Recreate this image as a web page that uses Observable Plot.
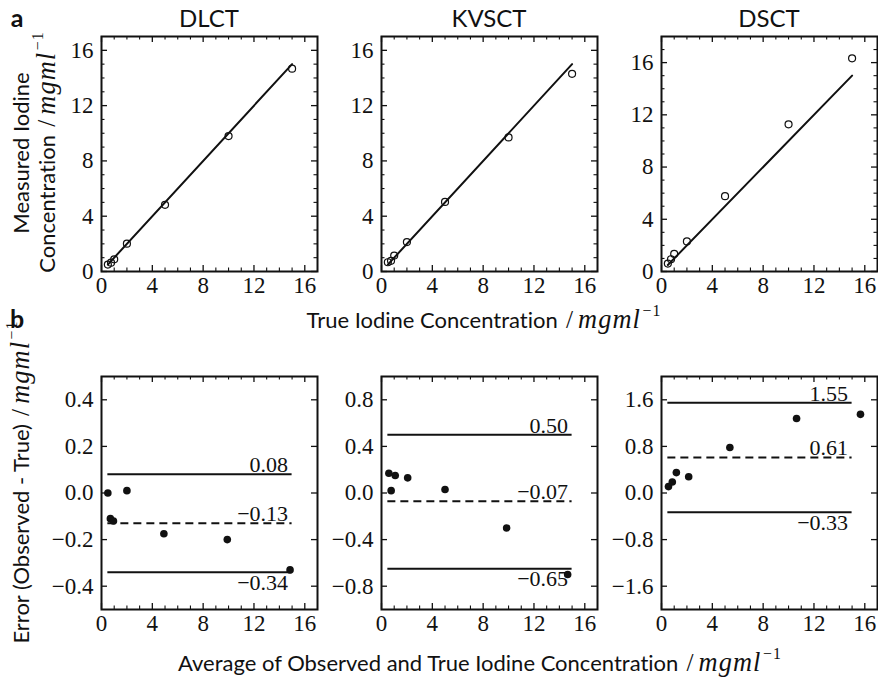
<!DOCTYPE html>
<html>
<head>
<meta charset="utf-8">
<script src="https://cdn.jsdelivr.net/npm/d3@7"></script>
<script src="https://cdn.jsdelivr.net/npm/@observablehq/plot@0.6"></script>
<style>
  html, body { margin: 0; padding: 0; background: #fff; }
  #fig { position: relative; width: 878px; height: 682px; overflow: hidden; background: #fff; }
  #fig svg { position: absolute; }
  .lbl { position: absolute; white-space: nowrap; font-family: Lato, "DejaVu Sans", sans-serif; color: #111;
         transform: translate(-50%, -50%); line-height: 1; font-variant-ligatures: none; font-feature-settings: "liga" 0, "clig" 0; }
  .rot { transform: translate(-50%, -50%) rotate(-90deg); }
  .tag { font-weight: bold; font-size: 25px; }
  .title { font-size: 24px; }
  .axis { font-size: 22px; }
  .m { font-family: "Liberation Serif", serif; font-style: italic; font-size: 1.2em; letter-spacing: 0.04em; }
  .sl { font-family: "Liberation Serif", serif; font-size: 1.15em; margin: 0 0.2em 0 0.1em; }
  .m sup { font-size: 0.6em; font-style: normal; vertical-align: 0.75em; line-height: 0; margin-left: 0.1em; }
</style>
</head>
<body>
<div id="fig"></div>
<script>
// Phantom measurements: three CT techniques against known iodine concentrations (mg/ml)
const methods = ["DLCT", "KVSCT", "DSCT"];
const trueConc = [0.5, 0.75, 1, 2, 5, 10, 15];
const measuredDLCT = [0.5, 0.64, 0.88, 2.01, 4.82, 9.8, 14.67];
const measuredKVSCT = [0.67, 0.77, 1.15, 2.13, 5.03, 9.7, 14.3];
const measuredDSCT = [0.61, 0.94, 1.35, 2.3, 5.77, 11.27, 16.33];

// Bland–Altman: mean of observed and true vs. error
const averageDLCT = [0.5, 0.7, 0.94, 2.0, 4.91, 9.9, 14.84];
const errorDLCT = [0.0, -0.11, -0.12, 0.01, -0.175, -0.2, -0.33];
const averageKVSCT = [0.58, 0.76, 1.08, 2.06, 5.0, 9.85, 14.65];
const errorKVSCT = [0.17, 0.02, 0.15, 0.13, 0.03, -0.3, -0.7];
const averageDSCT = [0.55, 0.85, 1.17, 2.14, 5.38, 10.63, 15.66];
const errorDSCT = [0.11, 0.19, 0.35, 0.28, 0.78, 1.28, 1.35];

// Limits of agreement: [upper, mean bias, lower]
const limitsDLCT = [0.08, -0.13, -0.34];
const limitsKVSCT = [0.50, -0.07, -0.65];
const limitsDSCT = [1.55, 0.61, -0.33];

// Reference segments
const identityEnds = [0.5, 15];
const limitEnds = [0.5, 15];

// Axes
const xDomain = [0, 17];
const xTicks = [0, 4, 8, 12, 16];
const yDomainTop = [[0, 17], [0, 17], [0, 18]];
const yTicksTop = [0, 4, 8, 12, 16];
const yDomainBottom = [[-0.5, 0.5], [-1, 1], [-2, 2]];
const yTicksBottom = [[-0.4, -0.2, 0, 0.2, 0.4], [-0.8, -0.4, 0, 0.4, 0.8], [-1.6, -0.8, 0, 0.8, 1.6]];

const measured = [measuredDLCT, measuredKVSCT, measuredDSCT];
const averages = [averageDLCT, averageKVSCT, averageDSCT];
const errors = [errorDLCT, errorKVSCT, errorDSCT];
const limits = [limitsDLCT, limitsKVSCT, limitsDSCT];

const fig = document.getElementById("fig");
const ink = "#111";
const colLeft = [101, 381, 661];
const W = 216;
const ML = 70, MR = 4, MT = 4, MB = 36;

function frameTicks(H, xMinor, yMajor, yMinor) {
  const maj = 6, min = 3.5;
  return [
    Plot.tickX(xTicks, {x: d => d, insetTop: H - maj, stroke: ink, strokeWidth: 1.3}),
    Plot.tickX(xTicks, {x: d => d, insetBottom: H - maj, stroke: ink, strokeWidth: 1.3}),
    Plot.tickX(xMinor, {x: d => d, insetTop: H - min, stroke: ink, strokeWidth: 1.1}),
    Plot.tickX(xMinor, {x: d => d, insetBottom: H - min, stroke: ink, strokeWidth: 1.1}),
    Plot.tickY(yMajor, {y: d => d, insetRight: W - maj, stroke: ink, strokeWidth: 1.3}),
    Plot.tickY(yMajor, {y: d => d, insetLeft: W - maj, stroke: ink, strokeWidth: 1.3}),
    Plot.tickY(yMinor, {y: d => d, insetRight: W - min, stroke: ink, strokeWidth: 1.1}),
    Plot.tickY(yMinor, {y: d => d, insetLeft: W - min, stroke: ink, strokeWidth: 1.1})
  ];
}

function panel({top, H, left, yDomain, yTicks, yFormat, yMinor, marks}) {
  const xMinor = d3.range(1, 17).filter(v => !xTicks.includes(v));
  const svg = Plot.plot({
    width: ML + W + MR,
    height: MT + H + MB,
    marginLeft: ML, marginRight: MR, marginTop: MT, marginBottom: MB,
    x: {domain: xDomain},
    y: {domain: yDomain},
    style: {fontFamily: '"Liberation Serif", serif', fontSize: "23px", color: ink, background: "transparent", overflow: "visible"},
    marks: [
      ...marks,
      ...frameTicks(H, xMinor, yTicks, yMinor),
      Plot.axisX(xTicks, {anchor: "bottom", tickSize: 0, tickPadding: 5, tickFormat: d => String(d), label: null}),
      Plot.axisY(yTicks, {anchor: "left", tickSize: 0, tickPadding: 8, tickFormat: yFormat, label: null}),
      Plot.frame({stroke: ink, strokeWidth: 2})
    ]
  });
  svg.style.left = (left - ML) + "px";
  svg.style.top = (top - MT) + "px";
  fig.appendChild(svg);
}

// Row a: measured vs. true concentration
methods.forEach((m, i) => {
  const pts = trueConc.map((t, j) => ({t, v: measured[i][j]}));
  const yMinor = d3.range(1, yDomainTop[i][1]).filter(v => !yTicksTop.includes(v));
  panel({
    top: 36, H: 235, left: colLeft[i],
    yDomain: yDomainTop[i], yTicks: yTicksTop, yFormat: d => String(d), yMinor,
    marks: [
      Plot.line(identityEnds.map(v => ({t: v, v})), {x: "t", y: "v", stroke: ink, strokeWidth: 2}),
      Plot.dot(pts, {x: "t", y: "v", r: 3.5, stroke: ink, strokeWidth: 1.2, fill: "none"})
    ]
  });
});

// Row b: Bland–Altman agreement
methods.forEach((m, i) => {
  const pts = averages[i].map((a, j) => ({a, e: errors[i][j]}));
  const [upper, bias, lower] = limits[i];
  const fmt = d3.format(".2f");
  panel({
    top: 376, H: 233, left: colLeft[i],
    yDomain: yDomainBottom[i], yTicks: yTicksBottom[i], yFormat: d3.format(".1f"), yMinor: [],
    marks: [
      Plot.ruleY([upper, lower], {y: d => d, x1: limitEnds[0], x2: limitEnds[1], stroke: ink, strokeWidth: 2}),
      Plot.ruleY([bias], {y: d => d, x1: limitEnds[0], x2: limitEnds[1], stroke: ink, strokeWidth: 2, strokeDasharray: "8,5"}),
      Plot.text([upper, bias], {x: limitEnds[1], y: d => d, text: d => fmt(d), textAnchor: "end", lineAnchor: "bottom", dx: -4, dy: -2, fill: ink, fontSize: 22}),
      Plot.text([lower], {x: limitEnds[1], y: d => d, text: d => fmt(d), textAnchor: "end", lineAnchor: "top", dx: -4, dy: 2, fill: ink, fontSize: 22}),
      Plot.dot(pts, {x: "a", y: "e", r: 3.8, fill: ink, stroke: "none"})
    ]
  });
});

// Titles and axis labels
const unit = '<span class="sl">/</span><span class="m">mgml<sup>−1</sup></span>';
function label(html, x, y, cls) {
  const d = document.createElement("div");
  d.className = "lbl " + cls;
  d.style.left = x + "px";
  d.style.top = y + "px";
  d.innerHTML = html;
  fig.appendChild(d);
}
label("a", 17, 17, "tag");
label("b", 17, 318, "tag");
methods.forEach((m, i) => label(m, colLeft[i] + W / 2, 18, "title"));
label("Measured Iodine", 21, 153, "axis rot");
label("Concentration " + unit, 46, 152, "axis rot");
label("True Iodine Concentration " + unit, 484, 319, "axis");
label("Error (Observed - True) " + unit, 20, 482, "axis rot");
label("Average of Observed and True Iodine Concentration " + unit, 480, 662, "axis");
</script>
</body>
</html>
